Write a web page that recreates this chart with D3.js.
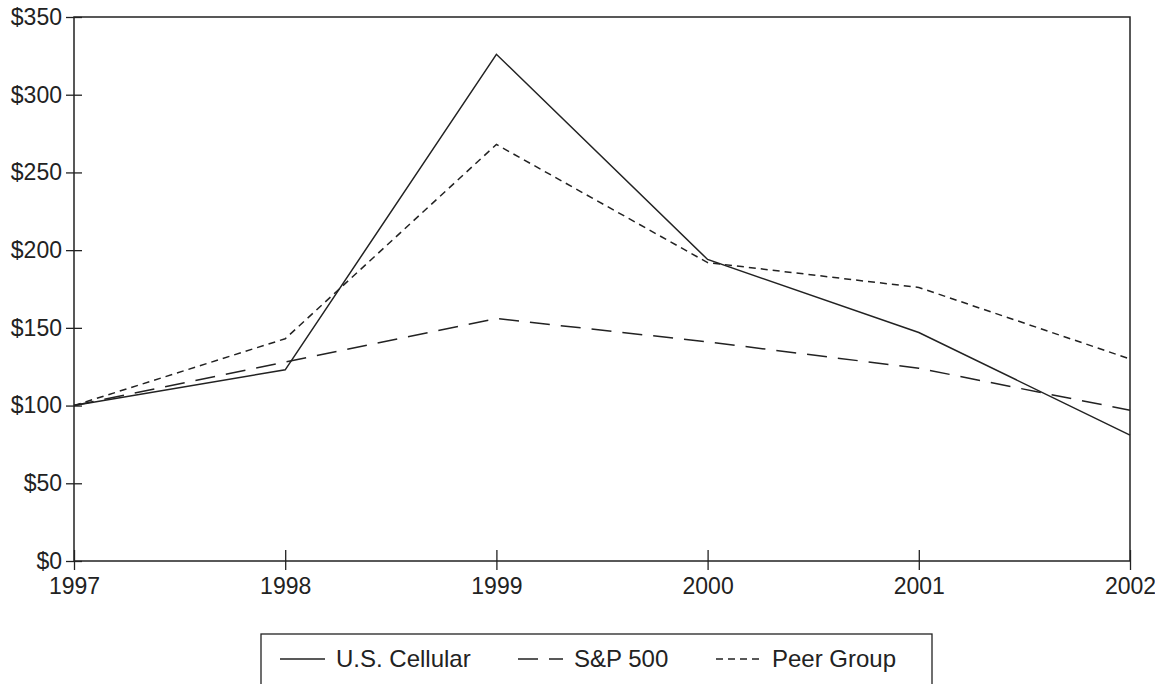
<!DOCTYPE html>
<html>
<head>
<meta charset="utf-8">
<script src="https://cdn.jsdelivr.net/npm/d3@7"></script>
<style>
  body { margin: 0; background: #fff; }
  svg { display: block; font-family: "Liberation Sans", Arial, sans-serif; }
</style>
</head>
<body>
<svg id="chart" width="1155" height="684"></svg>
<script>
var years = [1997, 1998, 1999, 2000, 2001, 2002];
var usCellular = [100, 123, 326, 194, 147, 81];
var sp500 = [100, 128, 156, 141, 124, 97];
var peerGroup = [100, 143, 268, 192, 176, 130];
var yTicks = [0, 50, 100, 150, 200, 250, 300, 350];

var seriesNames = ['U.S. Cellular', 'S&P 500', 'Peer Group'];
var seriesDash = ['none', '20,11', '7,5'];

drawChart();

function drawChart() {
  var svg = d3.select('#chart');
  var plotLeft = 74, plotRight = 1130, plotTop = 17, plotBottom = 561;

  var x = d3.scaleLinear().domain([1997, 2002]).range([plotLeft, plotRight]);
  var y = d3.scaleLinear().domain([0, 350]).range([plotBottom, plotTop]);

  // frame
  svg.append('rect')
    .attr('x', plotLeft).attr('y', plotTop)
    .attr('width', plotRight - plotLeft).attr('height', plotBottom - plotTop)
    .style('fill', 'none').style('stroke', '#222').style('stroke-width', 1.5);

  // y axis, ticks cross the frame
  var yAxis = svg.append('g')
    .attr('transform', 'translate(' + plotLeft + ',0)')
    .call(d3.axisLeft(y).tickValues(yTicks).tickFormat(function(d) { return '$' + d; }).tickSize(8).tickPadding(4));
  yAxis.select('.domain').remove();
  yAxis.selectAll('.tick line').attr('x1', 8).attr('x2', -8).style('stroke', '#222').style('stroke-width', 1.3);
  yAxis.selectAll('.tick text').style('font-size', '23px').style('fill', '#222').style('font-family', 'Liberation Sans, Arial, sans-serif');

  // x axis
  var xAxis = svg.append('g')
    .attr('transform', 'translate(0,' + plotBottom + ')')
    .call(d3.axisBottom(x).tickValues(years).tickFormat(d3.format('d')).tickSize(9).tickPadding(8));
  xAxis.select('.domain').remove();
  xAxis.selectAll('.tick line').attr('y1', -11).attr('y2', 9).style('stroke', '#222').style('stroke-width', 1.3);
  xAxis.selectAll('.tick text').style('font-size', '23px').style('fill', '#222').style('font-family', 'Liberation Sans, Arial, sans-serif');

  // series lines
  var line = d3.line()
    .x(function(d, i) { return x(years[i]); })
    .y(function(d) { return y(d); });

  var allSeries = [usCellular, sp500, peerGroup];
  svg.selectAll('path.series')
    .data(allSeries)
    .enter()
    .append('path')
    .attr('class', 'series')
    .attr('d', line)
    .style('fill', 'none')
    .style('stroke', '#222')
    .style('stroke-width', 1.5)
    .style('stroke-dasharray', function(d, i) { return seriesDash[i]; });

  // legend
  svg.append('rect')
    .attr('x', 261).attr('y', 634)
    .attr('width', 671).attr('height', 70)
    .style('fill', 'none').style('stroke', '#222').style('stroke-width', 1.3);

  var legendX = [280, 518, 716];
  var legend = svg.selectAll('g.legend')
    .data(seriesNames)
    .enter()
    .append('g')
    .attr('class', 'legend')
    .attr('transform', function(d, i) { return 'translate(' + legendX[i] + ',659)'; });

  legend.append('line')
    .attr('x1', 0).attr('x2', 45)
    .attr('y1', 0).attr('y2', 0)
    .style('stroke', '#222').style('stroke-width', 1.5)
    .style('stroke-dasharray', function(d, i) { return seriesDash[i]; });

  legend.append('text')
    .attr('x', 56)
    .attr('y', 8)
    .style('font-size', '24px').style('fill', '#222')
    .text(function(d) { return d; });
}
</script>
</body>
</html>
